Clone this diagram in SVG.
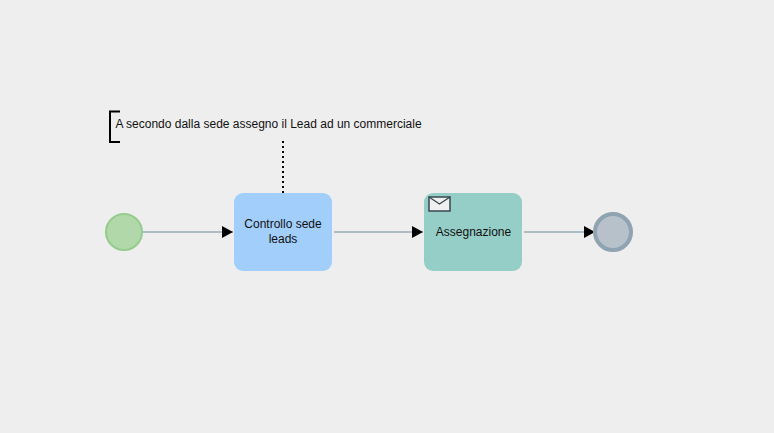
<svg xmlns="http://www.w3.org/2000/svg" width="774" height="433" viewBox="0 0 774 433">
<style>
text{font-family:"Liberation Sans",Arial,sans-serif;font-size:12px;fill:#111;text-anchor:middle}
.flow{fill:none;stroke:#aebcc6;stroke-width:2}
.task{stroke:none}
</style>
<defs>
<marker id="arrow" markerUnits="userSpaceOnUse" markerWidth="11" markerHeight="12" refX="11" refY="6" orient="auto"><path d="M0 0L11 6L0 12Z" fill="#000"/></marker>
</defs>
<rect width="774" height="433" fill="#eeeeee"/>
<g id="connectors">
<path class="flow" d="M143 232H233" marker-end="url(#arrow)"/>
<path class="flow" d="M334 232H423" marker-end="url(#arrow)"/>
<path class="flow" d="M524 232H595" marker-end="url(#arrow)"/>
<path d="M283 141V193" fill="none" stroke="#000" stroke-width="2" stroke-dasharray="2 3"/>
</g>
<g id="annotation">
<path d="M120 111.500H110V142H120" fill="none" stroke="#000" stroke-width="2"/>
<text x="268.500" y="128">A secondo dalla sede assegno il Lead ad un commerciale</text>
</g>
<g id="start"><circle cx="124" cy="232" r="18" fill="#b0d8a8" stroke="#95cc8c" stroke-width="2"/></g>
<g id="task1">
<rect class="task" x="234" y="193" width="98" height="78" rx="9" fill="#a1cefa"/>
<text x="283" y="228">Controllo sede</text>
<text x="283" y="243">leads</text>
</g>
<g id="task2">
<rect class="task" x="424" y="193" width="98" height="78" rx="9" fill="#95cec7"/>
<rect x="429" y="197" width="21" height="14" fill="#f0f0f0" stroke="#37474f" stroke-width="1.500"/>
<path d="M429 197L439.500 204L450 197" fill="none" stroke="#37474f" stroke-width="1.300"/>
<text x="473.500" y="236">Assegnazione</text>
</g>
<g id="end"><circle cx="613" cy="232" r="18" fill="#b6c1c9" stroke="#90a3b0" stroke-width="4"/></g>
</svg>
